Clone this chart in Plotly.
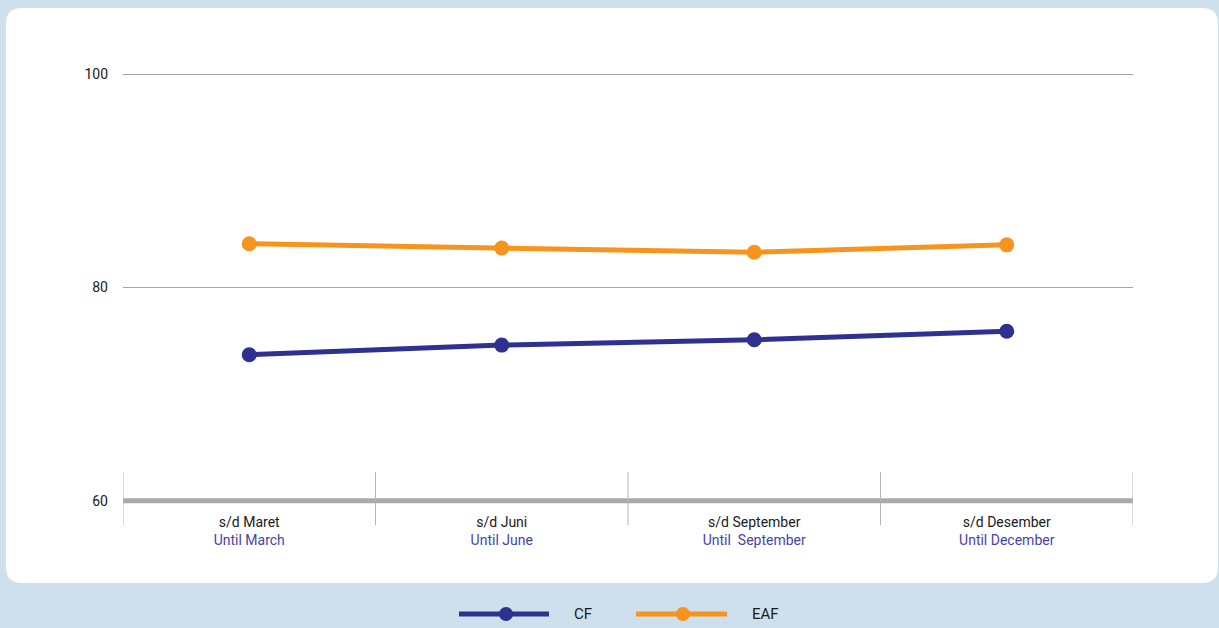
import plotly.graph_objects as go

# Periods (Indonesian / English) and capacity / availability factors (%)
periods_id = ["s/d Maret", "s/d Juni", "s/d September", "s/d Desember"]
periods_en = ["Until March", "Until June", "Until  September", "Until December"]
cf_values = [73.7, 74.6, 75.1, 75.9]
eaf_values = [84.1, 83.7, 83.3, 84.0]
y_ticks = [60, 80, 100]

W, H = 1219, 628
L, R, T, B = 123, 86, 71, 124
PW, PH = W - L - R, H - T - B

CF_COLOR = "#2e3192"
EAF_COLOR = "#f7941d"
BG = "#cee0eb"
FONT = "Roboto"


def px_x(x):
    return (x - L) / PW


def px_y(y):
    return (H - B - y) / PH


x = list(range(len(periods_id)))
ticktext = [f"{a}<br><span style='color:#4545a5'>{b}</span>" for a, b in zip(periods_id, periods_en)]

fig = go.Figure()
fig.add_trace(go.Scatter(x=x, y=cf_values, name="CF", mode="lines+markers",
                         line=dict(color=CF_COLOR, width=5),
                         marker=dict(color=CF_COLOR, size=15), showlegend=False))
fig.add_trace(go.Scatter(x=x, y=eaf_values, name="EAF", mode="lines+markers",
                         line=dict(color=EAF_COLOR, width=5),
                         marker=dict(color=EAF_COLOR, size=15), showlegend=False))

shapes = []
# white card with rounded corners
x0, x1, y0, y1, r = 6, 1218, 8, 583, 16
rx, ry = r / PW, r / PH
a0, a1 = px_x(x0), px_x(x1)
b0, b1 = px_y(y1), px_y(y0)
path = (f"M {a0+rx},{b0} L {a1-rx},{b0} Q {a1},{b0} {a1},{b0+ry} "
        f"L {a1},{b1-ry} Q {a1},{b1} {a1-rx},{b1} L {a0+rx},{b1} "
        f"Q {a0},{b1} {a0},{b1-ry} L {a0},{b0+ry} Q {a0},{b0} {a0+rx},{b0} Z")
shapes.append(dict(type="path", path=path, xref="paper", yref="paper",
                   fillcolor="white", line=dict(width=0), layer="below"))
# thick baseline
shapes.append(dict(type="line", xref="x", yref="y", x0=-0.5, x1=3.5, y0=60, y1=60,
                   line=dict(color="#a7a9ac", width=5), layer="above"))
# category separators
for k in range(len(periods_id) + 1):
    shapes.append(dict(type="line", xref="x", yref="paper", x0=k - 0.5, x1=k - 0.5,
                       y0=px_y(472), y1=px_y(525), line=dict(color="#b5b5b5", width=1)))

# legend drawn as long line samples
annotations = []
for name, color, lx0, lx1, mx, tx in [("CF", CF_COLOR, 459, 549, 506, 572),
                                      ("EAF", EAF_COLOR, 636, 727, 683, 750)]:
    ly = px_y(614)
    shapes.append(dict(type="line", xref="paper", yref="paper", x0=px_x(lx0), x1=px_x(lx1),
                       y0=ly, y1=ly, line=dict(color=color, width=5)))
    shapes.append(dict(type="circle", xref="paper", yref="paper",
                       x0=px_x(mx - 7), x1=px_x(mx + 7), y0=px_y(621), y1=px_y(607),
                       fillcolor=color, line=dict(width=0)))
    annotations.append(dict(text=name, xref="paper", yref="paper", x=px_x(tx), y=ly,
                            xanchor="left", yanchor="middle", showarrow=False,
                            font=dict(family=FONT, size=15, color="#1a1a1a")))

fig.update_layout(
    width=W, height=H,
    margin=dict(l=L, r=R, t=T, b=B),
    paper_bgcolor=BG, plot_bgcolor="rgba(0,0,0,0)",
    font=dict(family=FONT, size=14, color="#1a1a1a"),
    shapes=shapes, annotations=annotations,
    xaxis=dict(range=[-0.5, 3.5], tickvals=x, ticktext=ticktext, showgrid=False,
               zeroline=False, showline=False, ticks="", tickfont=dict(size=14),
               ticklabelstandoff=8),
    yaxis=dict(range=[59.7, 100.3], tickvals=y_ticks, ticktext=[str(v) for v in y_ticks],
               showgrid=True, gridcolor="#a6a6a6", gridwidth=1, zeroline=False,
               showline=False, ticks="", tickfont=dict(size=14), ticklabelstandoff=14),
)

fig.write_html("out.html")
